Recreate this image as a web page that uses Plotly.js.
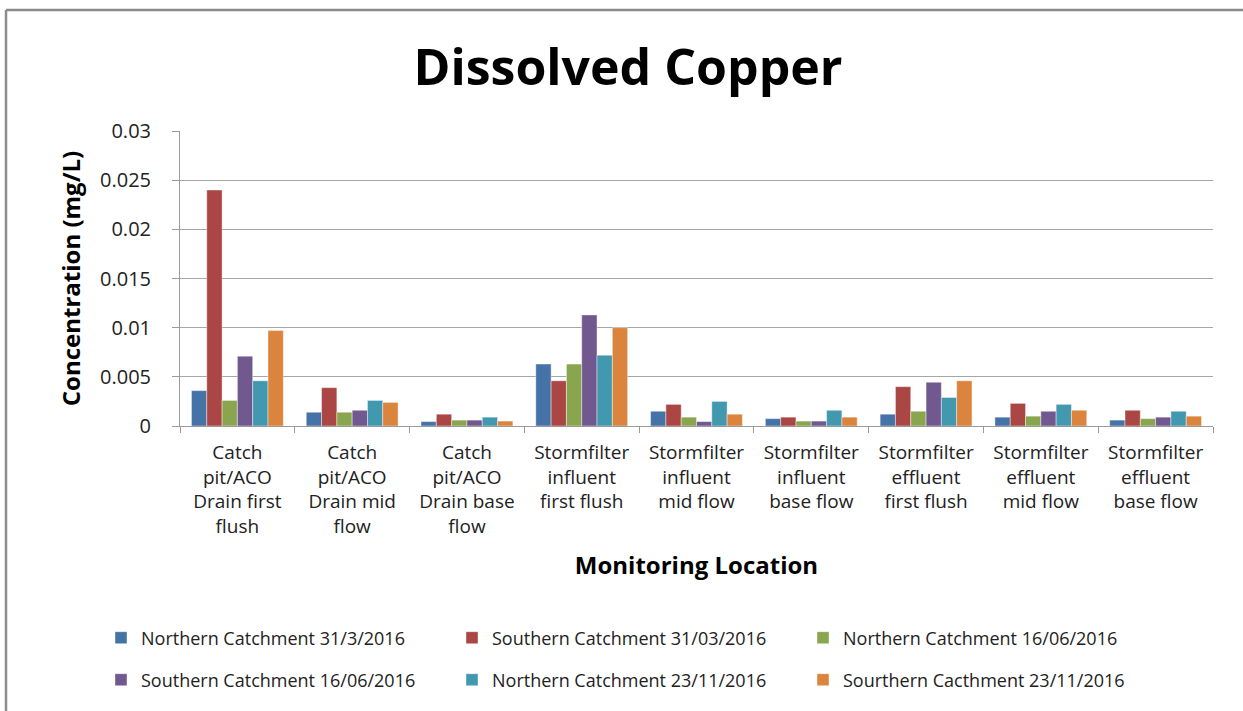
<!DOCTYPE html>
<html>
<head>
<meta charset="utf-8">
<script src="https://cdn.plot.ly/plotly-3.0.1.min.js"></script>
<style>
html,body{margin:0;padding:0;background:#fff;}
#chart{width:1243px;height:711px;}
</style>
</head>
<body>
<div id="chart"></div>
<script>
const categories = [
  "Catch<br>pit/ACO<br>Drain first<br>flush",
  "Catch<br>pit/ACO<br>Drain mid<br>flow",
  "Catch<br>pit/ACO<br>Drain base<br>flow",
  "Stormfilter<br>influent<br>first flush",
  "Stormfilter<br>influent<br>mid flow",
  "Stormfilter<br>influent<br>base flow",
  "Stormfilter<br>effluent<br>first flush",
  "Stormfilter<br>effluent<br>mid flow",
  "Stormfilter<br>effluent<br>base flow"
];
const seriesNames = [
  "Northern Catchment 31/3/2016",
  "Southern Catchment 31/03/2016",
  "Northern Catchment 16/06/2016",
  "Southern Catchment 16/06/2016",
  "Northern Catchment 23/11/2016",
  "Sourthern Cacthment 23/11/2016"
];
const northern_31_03 = [0.0036, 0.0014, 0.00045, 0.0063, 0.0015, 0.00075, 0.0012, 0.0009, 0.0006];
const southern_31_03 = [0.024, 0.0039, 0.0012, 0.0046, 0.0022, 0.0009, 0.004, 0.0023, 0.0016];
const northern_16_06 = [0.0026, 0.0014, 0.0006, 0.0063, 0.0009, 0.0005, 0.0015, 0.001, 0.00075];
const southern_16_06 = [0.0071, 0.0016, 0.0006, 0.0113, 0.00045, 0.0005, 0.00445, 0.0015, 0.0009];
const northern_23_11 = [0.0046, 0.0026, 0.0009, 0.0072, 0.0025, 0.0016, 0.0029, 0.0022, 0.0015];
const southern_23_11 = [0.0097, 0.0024, 0.0005, 0.01, 0.0012, 0.0009, 0.0046, 0.0016, 0.001];
const yTicks = [0, 0.005, 0.01, 0.015, 0.02, 0.025, 0.03];
const yTickLabels = ["0", "0.005", "0.01", "0.015", "0.02", "0.025", "0.03"];

const seriesValues = [northern_31_03, southern_31_03, northern_16_06, southern_16_06, northern_23_11, southern_23_11];
const colors = ["#4572A7", "#AA4643", "#89A54E", "#71588F", "#4198AF", "#DB843D"];

const FONT = "Open Sans, sans-serif";
const traces = seriesValues.map((vals, i) => ({
  type: "bar",
  name: seriesNames[i],
  x: categories,
  y: vals,
  marker: {color: colors[i], line: {color: "rgba(255,255,255,0.7)", width: 0.6}},
  legend: i < 3 ? "legend" : "legend2",
  hoverinfo: "name+y"
}));

const L = 180, R = 30, T = 131, B = 285;
const PW = 1243 - L - R, PH = 711 - T - B;
const px = v => (v - L) / PW;
const py = v => (711 - B - v) / PH;

const legendCommon = {
  orientation: "h",
  xanchor: "left",
  yanchor: "middle",
  x: px(101),
  font: {family: FONT, size: 18, color: "#222"},
  entrywidth: 306,
  entrywidthmode: "pixels",
  bgcolor: "rgba(0,0,0,0)",
  traceorder: "normal"
};

const layout = {
  width: 1243,
  height: 711,
  paper_bgcolor: "#fff",
  plot_bgcolor: "#fff",
  margin: {l: L, r: R, t: T, b: B},
  font: {family: FONT, color: "#222"},
  title: {
    text: "<b>Dissolved Copper</b>",
    font: {family: FONT, size: 50, color: "#000"},
    x: 628 / 1243,
    xanchor: "center",
    xref: "container",
    y: 1 - 67 / 711,
    yanchor: "middle",
    yref: "container"
  },
  barmode: "group",
  bargap: 0.2,
  bargroupgap: 0,
  xaxis: {
    type: "category",
    showgrid: false,
    showline: true,
    linecolor: "#9a9a9a",
    linewidth: 1,
    ticks: "outside",
    tickson: "boundaries",
    ticklen: 6,
    tickcolor: "#9a9a9a",
    ticklabelstandoff: 9,
    tickfont: {family: FONT, size: 19, color: "#222"},
    tickangle: 0,
    title: {text: "<b>Monitoring Location</b>", font: {family: FONT, size: 24, color: "#000"}, standoff: 19},
    automargin: false
  },
  yaxis: {
    range: [0, 0.03],
    tickvals: yTicks,
    ticktext: yTickLabels,
    showgrid: true,
    gridcolor: "#a6a6a6",
    gridwidth: 1,
    zeroline: false,
    showline: true,
    linecolor: "#9a9a9a",
    ticks: "outside",
    ticklen: 7,
    tickcolor: "#9a9a9a",
    ticklabelstandoff: 17,
    tickfont: {family: FONT, size: 20, color: "#222"},
    title: {text: "<b>Concentration (mg/L)</b>", font: {family: FONT, size: 24, color: "#000"}, standoff: 12},
    automargin: false
  },
  legend: Object.assign({}, legendCommon, {y: py(638)}),
  legend2: Object.assign({}, legendCommon, {y: py(680)}),
  shapes: [
    {type: "line", xref: "paper", yref: "paper", x0: px(6), x1: px(1243), y0: py(10), y1: py(10), line: {color: "#8c8c8c", width: 2.5}},
    {type: "line", xref: "paper", yref: "paper", x0: px(6), x1: px(6), y0: py(10), y1: py(711), line: {color: "#8c8c8c", width: 2.5}}
  ]
};

Plotly.newPlot("chart", traces, layout, {displayModeBar: false, responsive: false});
</script>
</body>
</html>
